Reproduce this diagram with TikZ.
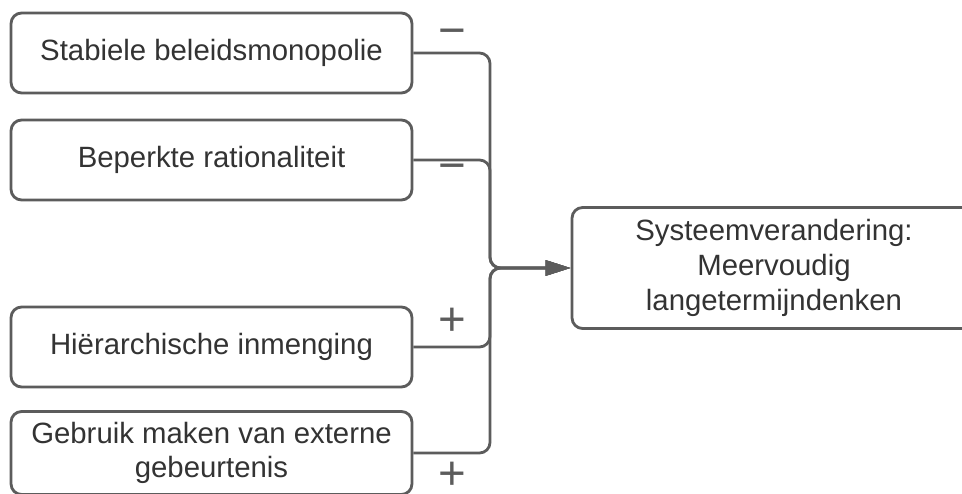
\documentclass[tikz,border=0pt]{standalone}
\usepackage{fontspec}
\setmainfont{Liberation Sans}
\usepackage{xcolor}
\usetikzlibrary{arrows.meta,positioning}

\definecolor{linegray}{HTML}{5C5C5C}
\definecolor{textgray}{HTML}{333333}

\begin{document}
\begin{tikzpicture}[
    x=0.02cm, y=-0.02cm,
    block/.style={draw=linegray, rounded corners=6pt, line width=1.6pt, fill=white,
        minimum width=8.02cm, minimum height=1.6cm, align=center, text=textgray,
        font=\fontsize{16.7}{19}\selectfont, inner sep=0pt},
    target/.style={block, minimum width=8.08cm, minimum height=2.42cm,
        font=\fontsize{16.7}{20}\selectfont},
    arrow/.style={-{Triangle[length=0.5cm,width=0.3cm]}, line width=1.6pt, color=linegray, rounded corners=6pt},
    lbl/.style={font=\fontsize{27}{27}\selectfont, text=linegray, inner sep=0pt, text depth=0pt},
]
\useasboundingbox (0,0) rectangle (962,493);
\clip (0,0) rectangle (962,493);

% Left column: factors
\node[block] (stabiel) at (211.5,53) {Stabiele beleidsmonopolie};
\node[block] (beperkt) at (211.5,160) {Beperkte rationaliteit};
\node[block] (hierarchie) at (211.5,347) {Hiërarchische inmenging};
\node[block, minimum height=1.66cm] (gebeurtenis) at (211.5,453) {Gebruik maken van externe\\gebeurtenis};

% Outcome
\node[target] (systeem) at (774,268) {Systeemverandering:\\Meervoudig\\langetermijndenken};

% Junction
\coordinate (junctie) at (490,268);

% Connectors
\draw[arrow] (stabiel.east) -| (junctie) -- (systeem.west);
\draw[arrow] (beperkt.east) -| (junctie) -- (systeem.west);
\draw[arrow] (hierarchie.east) -| (junctie) -- (systeem.west);
\draw[arrow] (gebeurtenis.east) -| (junctie) -- (systeem.west);

% Signs
\node[lbl] (s1) at (452,38) {−};
\node[lbl] (s2) at (452,173) {−};
\node[lbl] (s3) at (452,322) {+};
\node[lbl] (s4) at (452,476) {+};

\end{tikzpicture}
\end{document}
